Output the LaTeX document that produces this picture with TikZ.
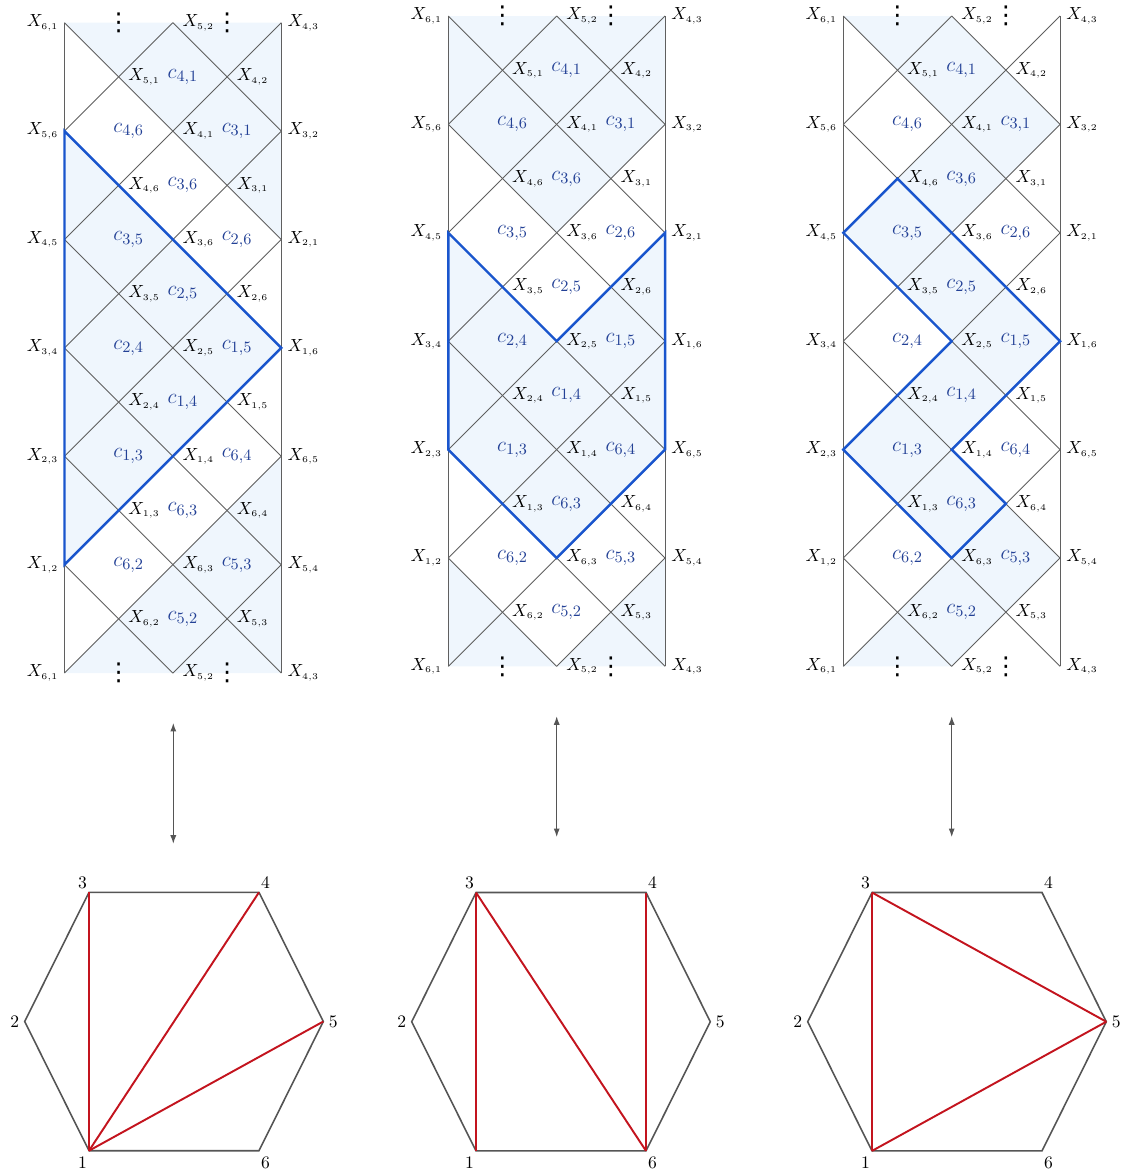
\documentclass[tikz,border=0pt]{standalone}
\usepackage{amsmath}
\usepackage{amssymb}
\usepackage{fontspec}
\usepackage{tikz}
\usetikzlibrary{positioning,arrows.meta}

\newfontfamily\dotsfont{DejaVu Sans}

\definecolor{cellfill}{RGB}{239,246,253}
\definecolor{pathblue}{RGB}{25,85,205}
\definecolor{cblue}{RGB}{35,65,150}
\definecolor{latgray}{RGB}{95,95,95}
\definecolor{diagred}{RGB}{195,20,30}
\definecolor{hexgray}{RGB}{85,85,85}

\tikzset{
  latline/.style={draw=latgray, line width=0.5pt},
  bluepath/.style={draw=pathblue, line width=1.4pt},
  xlab/.style={font=\normalsize},
  clab/.style={text=cblue, font=\fontsize{13}{15}\selectfont, xshift=0.2cm},
  dotlab/.style={font=\dotsfont\fontsize{14}{14}\selectfont, inner sep=0pt},
  hexedge/.style={draw=hexgray, line width=0.9pt},
  diag/.style={draw=diagred, line width=1.1pt},
  hexlab/.style={inner sep=1pt},
  arr/.style={draw=hexgray, line width=0.8pt, >={Latex[length=5pt,width=3.5pt]}, <->}
}

% lattice points of one strip
\newcommand{\latpoints}[1]{%
  \foreach \row in {0,...,12}{
    \foreach \col in {0,...,4}{
      \pgfmathtruncatemacro\s{\col+\row}
      \ifodd\s\relax\else
        \coordinate (#1-\col-\row) at (\col,-\row);
      \fi
    }
  }
}

% lattice lines of one strip
\newcommand{\latlines}[1]{%
  \foreach \row in {0,2,...,8}{
    \pgfmathtruncatemacro\rowb{\row+4}
    \draw[latline] (#1-0-\row) -- (#1-4-\rowb);
    \draw[latline] (#1-4-\row) -- (#1-0-\rowb);
  }
  \draw[latline] (#1-2-0) -- (#1-4-2);
  \draw[latline] (#1-2-0) -- (#1-0-2);
  \draw[latline] (#1-0-10) -- (#1-2-12);
  \draw[latline] (#1-4-10) -- (#1-2-12);
  \draw[latline] (#1-0-0) -- (#1-0-12);
  \draw[latline] (#1-4-0) -- (#1-4-12);
}

% labels of one strip
\newcommand{\latlabels}[1]{%
  \foreach \row in {0,...,12}{
    \foreach \col in {0,...,4}{
      \pgfmathtruncatemacro\s{\col+\row}
      \ifodd\s\relax\else
        \pgfmathtruncatemacro\xa{6-mod(\s/2,6)}
        \pgfmathtruncatemacro\xb{mod((\col-\row)/2+6,6)+1}
        \ifnum\col=0\relax
          \node[xlab, anchor=east] (#1-x-\col-\row) at (#1-\col-\row) {$X_{\scriptscriptstyle\xa,\xb}$};
        \else
          \ifnum\col=4\relax
            \node[xlab, anchor=west] (#1-x-\col-\row) at (#1-\col-\row) {$X_{\scriptscriptstyle\xa,\xb}$};
          \else
            \node[xlab, anchor=west, xshift=2pt] (#1-x-\col-\row) at (#1-\col-\row) {$X_{\scriptscriptstyle\xa,\xb}$};
          \fi
        \fi
      \fi
    }
  }
  \foreach \row in {1,...,11}{
    \foreach \col in {1,2,3}{
      \pgfmathtruncatemacro\s{\col+\row}
      \ifodd\s\relax
        \pgfmathtruncatemacro\xa{6-mod((\s+1)/2,6)}
        \pgfmathtruncatemacro\xb{mod((\col-\row-1)/2+6,6)+1}
        \node[clab] (#1-c-\col-\row) at (\col,-\row) {$c_{\xa,\xb}$};
      \fi
    }
  }
  \node[dotlab] (#1-d1) at (1,0) {⋮};
  \node[dotlab] (#1-d2) at (3,0) {⋮};
  \node[dotlab] (#1-d3) at (1,-12) {⋮};
  \node[dotlab] (#1-d4) at (3,-12) {⋮};
}

% hexagon with its numbers
\newcommand{\hexframe}[1]{%
  \coordinate (#1-1) at (-1.70,-2.584);
  \coordinate (#1-2) at (-2.986,0);
  \coordinate (#1-3) at (-1.70,2.584);
  \coordinate (#1-4) at (1.70,2.584);
  \coordinate (#1-5) at (2.986,0);
  \coordinate (#1-6) at (1.70,-2.584);
  \draw[hexedge] (#1-1) -- (#1-2) -- (#1-3) -- (#1-4) -- (#1-5) -- (#1-6) -- cycle;
  \node[hexlab, below left=2pt and 0pt of #1-1] (#1-l1) {1};
  \node[hexlab, left=2pt of #1-2] (#1-l2) {2};
  \node[hexlab, above left=1pt and 0pt of #1-3] (#1-l3) {3};
  \node[hexlab, above right=1pt and 0pt of #1-4] (#1-l4) {4};
  \node[hexlab, right=2pt of #1-5] (#1-l5) {5};
  \node[hexlab, below right=2pt and 0pt of #1-6] (#1-l6) {6};
}

\begin{document}
\begin{tikzpicture}
\useasboundingbox (0,0) rectangle (22.52,-23.46);

% Strip 1
\begin{scope}[shift={(1.29,-0.454)}, x=1.084cm, y=1.084cm]
  \latpoints{a}
  \fill[cellfill] (a-0-0) -- (a-4-0) -- (a-4-4) -- cycle;
  \fill[cellfill] (a-0-2) -- (a-4-6) -- (a-0-10) -- cycle;
  \fill[cellfill] (a-0-12) -- (a-4-12) -- (a-4-8) -- cycle;
  \latlines{a}
  \draw[bluepath] (a-0-2) -- (a-4-6) -- (a-0-10) -- cycle;
  \latlabels{a}
\end{scope}

% Strip 2
\begin{scope}[shift={(8.966,-0.32)}, x=1.084cm, y=1.084cm]
  \latpoints{b}
  \fill[cellfill] (b-0-0) -- (b-4-0) -- (b-4-2) -- (b-2-4) -- (b-0-2) -- cycle;
  \fill[cellfill] (b-0-4) -- (b-2-6) -- (b-4-4) -- (b-4-8) -- (b-2-10) -- (b-0-8) -- cycle;
  \fill[cellfill] (b-0-10) -- (b-2-12) -- (b-0-12) -- cycle;
  \fill[cellfill] (b-4-10) -- (b-2-12) -- (b-4-12) -- cycle;
  \latlines{b}
  \draw[bluepath] (b-0-4) -- (b-2-6) -- (b-4-4) -- (b-4-8) -- (b-2-10) -- (b-0-8) -- cycle;
  \latlabels{b}
\end{scope}

% Strip 3
\begin{scope}[shift={(16.866,-0.32)}, x=1.084cm, y=1.084cm]
  \latpoints{c}
  \fill[cellfill] (c-0-0) -- (c-2-0) -- (c-3-1) -- (c-4-2) -- (c-3-3) -- (c-2-4) -- (c-1-3) -- (c-2-2) -- (c-1-1) -- cycle;
  \fill[cellfill] (c-1-3) -- (c-2-4) -- (c-3-5) -- (c-4-6) -- (c-3-7) -- (c-2-8) -- (c-3-9) -- (c-2-10) -- (c-1-9) -- (c-0-8) -- (c-1-7) -- (c-2-6) -- (c-1-5) -- (c-0-4) -- cycle;
  \fill[cellfill] (c-3-9) -- (c-4-10) -- (c-3-11) -- (c-2-12) -- (c-0-12) -- (c-1-11) -- (c-2-10) -- cycle;
  \latlines{c}
  \draw[bluepath] (c-1-3) -- (c-2-4) -- (c-3-5) -- (c-4-6) -- (c-3-7) -- (c-2-8) -- (c-3-9) -- (c-2-10) -- (c-1-9) -- (c-0-8) -- (c-1-7) -- (c-2-6) -- (c-1-5) -- (c-0-4) -- cycle;
  \latlabels{c}
\end{scope}

% Arrows
\coordinate (a-top) at (3.466,-14.454);
\coordinate (a-bot) at (3.466,-16.88);
\coordinate (b-top) at (11.134,-14.32);
\coordinate (b-bot) at (11.134,-16.746);
\coordinate (c-top) at (19.034,-14.32);
\coordinate (c-bot) at (19.034,-16.746);
\draw[arr] (a-top) -- (a-bot);
\draw[arr] (b-top) -- (b-bot);
\draw[arr] (c-top) -- (c-bot);

% Hexagons
\begin{scope}[shift={(3.48,-20.43)}]
  \hexframe{h1}
  \draw[diag] (h1-1) -- (h1-3);
  \draw[diag] (h1-1) -- (h1-4);
  \draw[diag] (h1-1) -- (h1-5);
\end{scope}
\begin{scope}[shift={(11.22,-20.434)}]
  \hexframe{h2}
  \draw[diag] (h2-1) -- (h2-3);
  \draw[diag] (h2-3) -- (h2-6);
  \draw[diag] (h2-4) -- (h2-6);
\end{scope}
\begin{scope}[shift={(19.14,-20.434)}]
  \hexframe{h3}
  \draw[diag] (h3-1) -- (h3-3);
  \draw[diag] (h3-3) -- (h3-5);
  \draw[diag] (h3-1) -- (h3-5);
\end{scope}
\end{tikzpicture}
\end{document}
